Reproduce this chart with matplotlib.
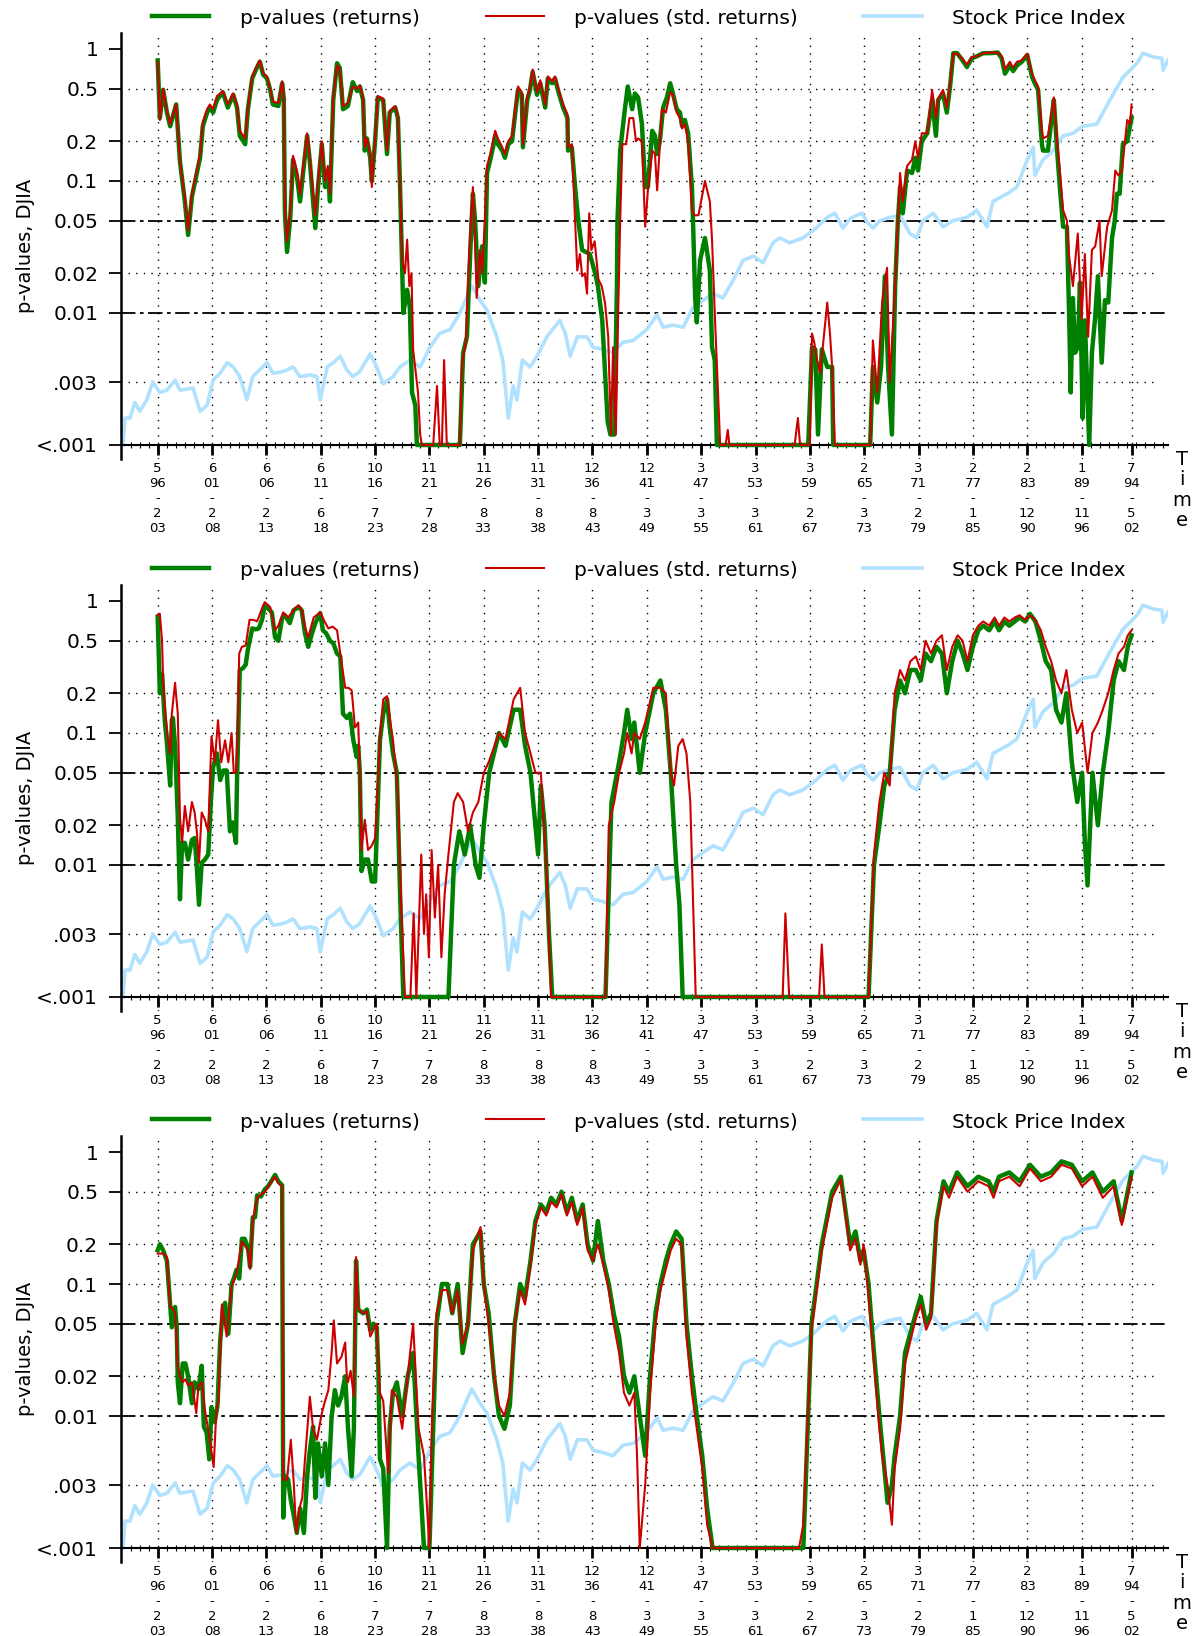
import matplotlib
matplotlib.use("Agg")
import matplotlib.pyplot as plt
from matplotlib.lines import Line2D
from matplotlib.ticker import FixedLocator, NullLocator, MultipleLocator

W, H = 1196, 1636
GREEN = "#008000"
RED = "#CC0000"
BLUE = "#B0E2FF"

# window labels: start month / year - end month / year
START_MONTH = [5, 6, 6, 6, 10, 11, 11, 11, 12, 12, 3, 3, 3, 2, 3, 2, 2, 1, 7]
START_YEAR = ["96", "01", "06", "11", "16", "21", "26", "31", "36", "41",
              "47", "53", "59", "65", "71", "77", "83", "89", "94"]
END_MONTH = [2, 2, 2, 6, 7, 7, 8, 8, 8, 3, 3, 3, 2, 3, 2, 1, 12, 11, 5]
END_YEAR = ["03", "08", "13", "18", "23", "28", "33", "38", "43", "49",
            "55", "61", "67", "73", "79", "85", "90", "96", "02"]
# window position (in units of the regular tick step)
TICK_POS = [0, 1, 2, 3, 4, 5, 6, 7, 8, 9, 10, 11, 12, 13, 14, 15, 16, 17, 17.92]

Y_TICKS = [1, 0.5, 0.2, 0.1, 0.05, 0.02, 0.01, 0.003, 0.001]
Y_LABELS = ["1", "0.5", "0.2", "0.1", "0.05", "0.02", "0.01", ".003", "<.001"]

# stock price index, drawn on the p-value scale (same in every panel)
INDEX = [(-0.64, 0.001), (-0.60, 0.0016), (-0.51, 0.0016), (-0.42, 0.0021), (-0.33, 0.0018),
         (-0.20, 0.0022), (-0.09, 0.0030), (0.04, 0.0025), (0.17, 0.0026), (0.32, 0.0031),
         (0.41, 0.0026), (0.65, 0.0027), (0.78, 0.0018), (0.91, 0.0020), (1.02, 0.0031),
         (1.15, 0.0035), (1.28, 0.0042), (1.39, 0.0039), (1.51, 0.0033), (1.64, 0.0022),
         (1.75, 0.0033), (2.01, 0.0042), (2.12, 0.0035), (2.31, 0.0036), (2.49, 0.0039),
         (2.62, 0.0033), (2.80, 0.0034), (2.93, 0.0033), (2.99, 0.0022), (3.12, 0.0039),
         (3.23, 0.0042), (3.36, 0.0047), (3.48, 0.0037), (3.59, 0.0033), (3.72, 0.0036),
         (3.91, 0.0049), (4.03, 0.0039), (4.15, 0.0029), (4.33, 0.0033), (4.46, 0.0039),
         (4.64, 0.0044), (4.83, 0.0039), (5.01, 0.0055), (5.19, 0.0070), (5.38, 0.0075),
         (5.56, 0.010), (5.78, 0.016), (5.93, 0.0125), (6.06, 0.0105), (6.24, 0.0066),
         (6.35, 0.0044), (6.45, 0.0016), (6.54, 0.0028), (6.61, 0.0022), (6.71, 0.0044),
         (6.85, 0.0039), (6.98, 0.0047), (7.16, 0.0066), (7.40, 0.0088), (7.50, 0.0070),
         (7.59, 0.0047), (7.72, 0.0066), (7.90, 0.0066), (8.01, 0.0055), (8.18, 0.0053),
         (8.38, 0.0050), (8.56, 0.0060), (8.75, 0.0062), (9.00, 0.0075), (9.19, 0.0097),
         (9.30, 0.0078), (9.48, 0.0081), (9.67, 0.0078), (9.85, 0.011), (10.04, 0.0125),
         (10.22, 0.014), (10.40, 0.013), (10.59, 0.0177), (10.77, 0.025), (10.96, 0.027),
         (11.14, 0.024), (11.32, 0.034), (11.45, 0.037), (11.63, 0.034), (11.87, 0.037),
         (12.06, 0.042), (12.32, 0.053), (12.46, 0.057), (12.61, 0.044), (12.74, 0.052),
         (12.96, 0.057), (13.05, 0.049), (13.16, 0.044), (13.29, 0.050), (13.47, 0.053),
         (13.66, 0.055), (13.84, 0.040), (13.97, 0.037), (14.08, 0.050), (14.27, 0.057),
         (14.45, 0.045), (14.63, 0.050), (14.89, 0.053), (15.07, 0.060), (15.26, 0.045),
         (15.37, 0.070), (15.63, 0.080), (15.81, 0.090), (16.00, 0.145), (16.11, 0.18),
         (16.14, 0.11), (16.29, 0.145), (16.48, 0.17), (16.66, 0.22), (16.84, 0.23),
         (17.02, 0.26), (17.28, 0.27), (17.52, 0.41), (17.76, 0.61), (17.89, 0.69),
         (18.02, 0.78), (18.13, 0.93), (18.32, 0.87), (18.48, 0.85), (18.50, 0.69),
         (18.59, 0.82)]

# panel 1
P1_RET = [(0.00, 0.82), (0.04, 0.30), (0.10, 0.49), (0.17, 0.33), (0.23, 0.26), (0.34, 0.38),
          (0.41, 0.14), (0.50, 0.07), (0.56, 0.039), (0.63, 0.076), (0.69, 0.10), (0.78, 0.15),
          (0.83, 0.26), (0.91, 0.33), (0.96, 0.36), (1.02, 0.33), (1.09, 0.41), (1.20, 0.47),
          (1.29, 0.36), (1.39, 0.45), (1.46, 0.36), (1.51, 0.22), (1.61, 0.19), (1.66, 0.35),
          (1.74, 0.60), (1.83, 0.73), (1.88, 0.80), (1.94, 0.64), (2.01, 0.60), (2.07, 0.49),
          (2.12, 0.38), (2.22, 0.37), (2.29, 0.55), (2.32, 0.42), (2.34, 0.06), (2.38, 0.029),
          (2.44, 0.053), (2.49, 0.145), (2.56, 0.11), (2.62, 0.07), (2.67, 0.11), (2.75, 0.22),
          (2.80, 0.14), (2.86, 0.07), (2.90, 0.044), (2.95, 0.09), (3.02, 0.19), (3.08, 0.09),
          (3.13, 0.12), (3.17, 0.07), (3.23, 0.41), (3.30, 0.78), (3.35, 0.72), (3.41, 0.35),
          (3.50, 0.37), (3.59, 0.56), (3.67, 0.48), (3.72, 0.52), (3.78, 0.41), (3.81, 0.17),
          (3.85, 0.21), (3.91, 0.15), (3.94, 0.10), (4.00, 0.20), (4.05, 0.43), (4.15, 0.41),
          (4.22, 0.16), (4.27, 0.33), (4.37, 0.36), (4.42, 0.30), (4.46, 0.09), (4.50, 0.02),
          (4.52, 0.01), (4.59, 0.015), (4.64, 0.011), (4.68, 0.0025), (4.74, 0.002), (4.77, 0.001),
          (5.56, 0.001), (5.62, 0.005), (5.69, 0.0066), (5.75, 0.028), (5.80, 0.08), (5.84, 0.05),
          (5.90, 0.016), (5.97, 0.032), (6.02, 0.017), (6.06, 0.115), (6.12, 0.145), (6.17, 0.18),
          (6.21, 0.22), (6.26, 0.19), (6.34, 0.17), (6.39, 0.15), (6.45, 0.19), (6.52, 0.20),
          (6.58, 0.33), (6.63, 0.49), (6.70, 0.45), (6.72, 0.18), (6.80, 0.41), (6.85, 0.49),
          (6.90, 0.67), (6.98, 0.45), (7.04, 0.55), (7.13, 0.36), (7.18, 0.60), (7.26, 0.55),
          (7.31, 0.60), (7.37, 0.48), (7.46, 0.36), (7.54, 0.30), (7.55, 0.17), (7.62, 0.18),
          (7.68, 0.09), (7.74, 0.05), (7.81, 0.03), (7.95, 0.028), (8.05, 0.02), (8.10, 0.016),
          (8.18, 0.0088), (8.28, 0.0015), (8.33, 0.0012), (8.40, 0.0012), (8.45, 0.016),
          (8.46, 0.05), (8.51, 0.17), (8.60, 0.36), (8.65, 0.52), (8.73, 0.35), (8.78, 0.46),
          (8.84, 0.43), (8.91, 0.27), (8.97, 0.09), (9.02, 0.09), (9.10, 0.24), (9.15, 0.22),
          (9.19, 0.16), (9.24, 0.20), (9.30, 0.36), (9.37, 0.43), (9.43, 0.55), (9.48, 0.46),
          (9.55, 0.35), (9.61, 0.33), (9.65, 0.26), (9.70, 0.29), (9.76, 0.23), (9.83, 0.09),
          (9.85, 0.05), (9.89, 0.013), (9.92, 0.0085), (9.98, 0.025), (10.07, 0.037),
          (10.16, 0.021), (10.20, 0.0055), (10.25, 0.0044), (10.29, 0.001), (11.97, 0.001),
          (12.04, 0.0055), (12.10, 0.0053), (12.15, 0.0012), (12.22, 0.0053), (12.32, 0.0039),
          (12.41, 0.0039), (12.43, 0.001), (13.11, 0.001), (13.16, 0.0039), (13.24, 0.0021),
          (13.31, 0.0039), (13.38, 0.019), (13.44, 0.0039), (13.51, 0.0012), (13.57, 0.016),
          (13.62, 0.05), (13.66, 0.09), (13.71, 0.057), (13.79, 0.12), (13.88, 0.115),
          (13.94, 0.15), (13.99, 0.12), (14.06, 0.20), (14.16, 0.23), (14.25, 0.41), (14.32, 0.22),
          (14.36, 0.41), (14.45, 0.46), (14.52, 0.33), (14.58, 0.52), (14.64, 0.93), (14.71, 0.93),
          (14.80, 0.83), (14.89, 0.73), (14.98, 0.85), (15.07, 0.88), (15.19, 0.93), (15.32, 0.93),
          (15.46, 0.94), (15.53, 0.85), (15.59, 0.65), (15.68, 0.75), (15.74, 0.68), (15.81, 0.75),
          (15.90, 0.80), (16.00, 0.90), (16.09, 0.61), (16.14, 0.55), (16.20, 0.49), (16.27, 0.19),
          (16.29, 0.17), (16.38, 0.17), (16.46, 0.33), (16.49, 0.41), (16.55, 0.17), (16.60, 0.09),
          (16.66, 0.045), (16.73, 0.045), (16.77, 0.01), (16.80, 0.0025), (16.84, 0.013),
          (16.88, 0.005), (16.93, 0.0055), (16.97, 0.017), (17.02, 0.0016), (17.06, 0.0088),
          (17.14, 0.001), (17.19, 0.005), (17.25, 0.0093), (17.30, 0.019), (17.37, 0.0042),
          (17.43, 0.0125), (17.49, 0.012), (17.56, 0.037), (17.61, 0.05), (17.65, 0.08),
          (17.70, 0.08), (17.76, 0.19), (17.84, 0.20), (17.89, 0.26), (17.92, 0.30)]

P1_STD = [(0.00, 0.80), (0.04, 0.29), (0.10, 0.50), (0.17, 0.34), (0.23, 0.27), (0.34, 0.38),
          (0.41, 0.14), (0.50, 0.075), (0.56, 0.042), (0.63, 0.08), (0.69, 0.105), (0.78, 0.16),
          (0.83, 0.28), (0.91, 0.35), (0.96, 0.38), (1.02, 0.35), (1.09, 0.44), (1.20, 0.48),
          (1.29, 0.38), (1.39, 0.46), (1.46, 0.38), (1.51, 0.24), (1.61, 0.21), (1.66, 0.36),
          (1.74, 0.62), (1.83, 0.75), (1.88, 0.82), (1.94, 0.66), (2.01, 0.62), (2.07, 0.50),
          (2.12, 0.40), (2.22, 0.39), (2.29, 0.57), (2.32, 0.45), (2.34, 0.065), (2.38, 0.035),
          (2.44, 0.06), (2.49, 0.155), (2.56, 0.12), (2.62, 0.08), (2.67, 0.12), (2.75, 0.23),
          (2.80, 0.15), (2.86, 0.08), (2.90, 0.055), (2.95, 0.10), (3.02, 0.20), (3.08, 0.10),
          (3.13, 0.13), (3.17, 0.08), (3.23, 0.43), (3.30, 0.75), (3.35, 0.70), (3.41, 0.37),
          (3.50, 0.39), (3.59, 0.52), (3.67, 0.50), (3.72, 0.53), (3.78, 0.42), (3.81, 0.18),
          (3.85, 0.21), (3.91, 0.16), (3.94, 0.09), (4.00, 0.21), (4.05, 0.44), (4.15, 0.42),
          (4.22, 0.17), (4.27, 0.34), (4.37, 0.37), (4.42, 0.31), (4.46, 0.09), (4.50, 0.025),
          (4.55, 0.02), (4.59, 0.036), (4.63, 0.016), (4.67, 0.02), (4.70, 0.0053), (4.75, 0.0035),
          (4.79, 0.0025), (4.83, 0.0012), (4.86, 0.001), (5.07, 0.001), (5.14, 0.0028),
          (5.19, 0.001), (5.23, 0.001), (5.27, 0.0044), (5.32, 0.001), (5.56, 0.001),
          (5.60, 0.0042), (5.67, 0.006), (5.72, 0.021), (5.76, 0.05), (5.80, 0.09), (5.84, 0.033),
          (5.87, 0.013), (5.93, 0.03), (5.97, 0.02), (6.02, 0.05), (6.06, 0.13), (6.12, 0.16),
          (6.17, 0.20), (6.21, 0.24), (6.26, 0.21), (6.34, 0.18), (6.39, 0.16), (6.45, 0.20),
          (6.52, 0.22), (6.58, 0.35), (6.63, 0.52), (6.70, 0.47), (6.72, 0.19), (6.80, 0.43),
          (6.85, 0.52), (6.90, 0.70), (6.98, 0.47), (7.04, 0.58), (7.13, 0.38), (7.18, 0.62),
          (7.26, 0.57), (7.31, 0.62), (7.37, 0.50), (7.46, 0.38), (7.54, 0.32), (7.55, 0.18),
          (7.62, 0.19), (7.68, 0.05), (7.72, 0.021), (7.77, 0.028), (7.81, 0.019), (7.86, 0.02),
          (7.90, 0.014), (7.94, 0.057), (7.98, 0.03), (8.04, 0.035), (8.11, 0.018), (8.17, 0.016),
          (8.23, 0.012), (8.29, 0.0066), (8.34, 0.0012), (8.38, 0.0055), (8.43, 0.0012),
          (8.47, 0.0088), (8.51, 0.05), (8.55, 0.19), (8.62, 0.19), (8.68, 0.30), (8.75, 0.30),
          (8.80, 0.20), (8.84, 0.21), (8.91, 0.20), (8.97, 0.045), (9.02, 0.085), (9.10, 0.17),
          (9.15, 0.16), (9.19, 0.085), (9.28, 0.35), (9.35, 0.33), (9.43, 0.47), (9.48, 0.45),
          (9.55, 0.33), (9.61, 0.30), (9.65, 0.25), (9.70, 0.27), (9.76, 0.20), (9.83, 0.06),
          (9.88, 0.055), (9.95, 0.055), (10.07, 0.10), (10.16, 0.07), (10.20, 0.036),
          (10.25, 0.01), (10.35, 0.001), (10.45, 0.001), (10.49, 0.0013), (10.52, 0.001),
          (11.72, 0.001), (11.78, 0.0016), (11.82, 0.001), (12.00, 0.001), (12.04, 0.007),
          (12.08, 0.006), (12.13, 0.0045), (12.19, 0.0035), (12.32, 0.012), (12.37, 0.007),
          (12.41, 0.0039), (12.46, 0.001), (13.11, 0.001), (13.16, 0.0062), (13.24, 0.0025),
          (13.33, 0.012), (13.42, 0.022), (13.47, 0.003), (13.57, 0.016), (13.62, 0.05),
          (13.66, 0.115), (13.71, 0.07), (13.79, 0.13), (13.88, 0.145), (13.94, 0.20),
          (13.99, 0.15), (14.06, 0.23), (14.16, 0.23), (14.25, 0.49), (14.32, 0.30), (14.36, 0.42),
          (14.45, 0.49), (14.52, 0.36), (14.58, 0.55), (14.64, 0.93), (14.71, 0.92), (14.80, 0.85),
          (14.89, 0.76), (14.98, 0.87), (15.07, 0.88), (15.19, 0.93), (15.32, 0.94), (15.46, 0.94),
          (15.53, 0.88), (15.59, 0.70), (15.68, 0.80), (15.74, 0.72), (15.81, 0.80), (15.90, 0.82),
          (16.00, 0.92), (16.09, 0.65), (16.14, 0.58), (16.20, 0.52), (16.27, 0.24), (16.29, 0.21),
          (16.38, 0.22), (16.46, 0.35), (16.49, 0.43), (16.55, 0.20), (16.60, 0.12), (16.66, 0.06),
          (16.73, 0.05), (16.77, 0.027), (16.84, 0.016), (16.93, 0.04), (17.00, 0.009),
          (17.06, 0.028), (17.12, 0.0066), (17.19, 0.03), (17.25, 0.032), (17.33, 0.05),
          (17.37, 0.019), (17.47, 0.045), (17.56, 0.06), (17.62, 0.12), (17.68, 0.11),
          (17.74, 0.12), (17.84, 0.29), (17.89, 0.27), (17.92, 0.38)]

# panel 2
P2_RET = [(0.00, 0.76), (0.04, 0.20), (0.08, 0.28), (0.13, 0.125), (0.17, 0.084), (0.23, 0.04),
          (0.26, 0.125), (0.28, 0.13), (0.32, 0.08), (0.37, 0.023), (0.41, 0.0055), (0.45, 0.0147),
          (0.50, 0.0147), (0.56, 0.011), (0.63, 0.0155), (0.68, 0.016), (0.72, 0.0097),
          (0.76, 0.005), (0.81, 0.0104), (0.87, 0.011), (0.93, 0.012), (0.98, 0.031), (1.02, 0.055),
          (1.09, 0.07), (1.15, 0.044), (1.21, 0.052), (1.27, 0.052), (1.33, 0.018), (1.38, 0.021),
          (1.44, 0.0147), (1.46, 0.044), (1.51, 0.30), (1.57, 0.31), (1.62, 0.33), (1.66, 0.43),
          (1.74, 0.62), (1.80, 0.61), (1.86, 0.62), (1.92, 0.72), (1.97, 0.92), (2.03, 0.88),
          (2.10, 0.82), (2.16, 0.53), (2.22, 0.50), (2.29, 0.74), (2.34, 0.78), (2.43, 0.68),
          (2.50, 0.85), (2.59, 0.90), (2.65, 0.85), (2.71, 0.57), (2.77, 0.45), (2.84, 0.57),
          (2.90, 0.68), (2.99, 0.81), (3.04, 0.60), (3.10, 0.57), (3.17, 0.50), (3.23, 0.48),
          (3.30, 0.40), (3.36, 0.38), (3.41, 0.14), (3.48, 0.13), (3.54, 0.14), (3.60, 0.088),
          (3.66, 0.066), (3.69, 0.08), (3.72, 0.05), (3.75, 0.009), (3.81, 0.011), (3.87, 0.011),
          (3.94, 0.0075), (4.00, 0.0075), (4.05, 0.03), (4.09, 0.088), (4.15, 0.14), (4.22, 0.18),
          (4.27, 0.11), (4.33, 0.07), (4.40, 0.05), (4.46, 0.006), (4.52, 0.001), (5.35, 0.001),
          (5.45, 0.01), (5.55, 0.018), (5.65, 0.012), (5.75, 0.02), (5.85, 0.01), (5.92, 0.008),
          (6.00, 0.02), (6.10, 0.05), (6.28, 0.10), (6.40, 0.08), (6.55, 0.15),
          (6.67, 0.15), (6.76, 0.08), (6.86, 0.05), (6.95, 0.02), (7.00, 0.012), (7.05, 0.04),
          (7.12, 0.02), (7.20, 0.003), (7.26, 0.001), (8.24, 0.001), (8.35, 0.03), (8.49, 0.06),
          (8.58, 0.10), (8.64, 0.15), (8.72, 0.09), (8.77, 0.12), (8.87, 0.05), (8.97, 0.10),
          (9.12, 0.20), (9.25, 0.25), (9.35, 0.15), (9.44, 0.05), (9.54, 0.01), (9.60, 0.005),
          (9.66, 0.001), (13.08, 0.001), (13.18, 0.01), (13.28, 0.02), (13.37, 0.04), (13.47, 0.05),
          (13.56, 0.15), (13.66, 0.25), (13.75, 0.20), (13.85, 0.30), (13.95, 0.30), (14.04, 0.25),
          (14.13, 0.40), (14.23, 0.35), (14.33, 0.45), (14.43, 0.40), (14.52, 0.20), (14.62, 0.35),
          (14.72, 0.50), (14.81, 0.40), (14.90, 0.30), (15.00, 0.45), (15.10, 0.60), (15.19, 0.65),
          (15.30, 0.60), (15.40, 0.70), (15.48, 0.60), (15.58, 0.70), (15.67, 0.65), (15.77, 0.70),
          (15.86, 0.75), (15.96, 0.70), (16.05, 0.80), (16.15, 0.70), (16.25, 0.50), (16.34, 0.35),
          (16.44, 0.30), (16.53, 0.15), (16.63, 0.12), (16.72, 0.20), (16.82, 0.06), (16.92, 0.03),
          (17.01, 0.05), (17.06, 0.015), (17.11, 0.007), (17.20, 0.05), (17.30, 0.02), (17.39, 0.05),
          (17.49, 0.10), (17.59, 0.25), (17.68, 0.35), (17.78, 0.30), (17.85, 0.45), (17.92, 0.55)]

P2_STD = [(0.00, 0.78), (0.04, 0.80), (0.08, 0.50), (0.10, 0.25), (0.13, 0.16), (0.19, 0.09),
          (0.23, 0.07), (0.26, 0.14), (0.32, 0.24), (0.37, 0.14), (0.41, 0.023), (0.45, 0.015),
          (0.50, 0.028), (0.56, 0.018), (0.63, 0.03), (0.68, 0.025), (0.72, 0.018), (0.76, 0.0104),
          (0.81, 0.025), (0.87, 0.022), (0.93, 0.018), (0.99, 0.094), (1.05, 0.06), (1.11, 0.125),
          (1.17, 0.06), (1.24, 0.088), (1.30, 0.06), (1.36, 0.10), (1.40, 0.05), (1.44, 0.05),
          (1.47, 0.09), (1.50, 0.40), (1.55, 0.45), (1.62, 0.46), (1.69, 0.72), (1.76, 0.72),
          (1.83, 0.70), (1.92, 0.88), (1.97, 0.98), (2.07, 0.90), (2.16, 0.60), (2.22, 0.65),
          (2.31, 0.82), (2.40, 0.75), (2.50, 0.85), (2.59, 0.93), (2.65, 0.86), (2.71, 0.64),
          (2.77, 0.53), (2.87, 0.75), (2.99, 0.82), (3.07, 0.70), (3.14, 0.62), (3.22, 0.64),
          (3.30, 0.60), (3.36, 0.40), (3.45, 0.22), (3.51, 0.22), (3.57, 0.21), (3.63, 0.11),
          (3.69, 0.12), (3.72, 0.05), (3.75, 0.013), (3.81, 0.022), (3.87, 0.013), (3.94, 0.014),
          (4.00, 0.016), (4.05, 0.04), (4.09, 0.094), (4.15, 0.18), (4.22, 0.19), (4.27, 0.13),
          (4.33, 0.088), (4.42, 0.035), (4.48, 0.005), (4.55, 0.001), (4.65, 0.001), (4.71, 0.0043),
          (4.76, 0.001), (4.85, 0.012), (4.90, 0.003), (4.94, 0.006), (4.99, 0.002), (5.04, 0.013),
          (5.10, 0.004), (5.16, 0.01), (5.22, 0.002), (5.28, 0.006), (5.35, 0.012), (5.45, 0.03),
          (5.52, 0.035), (5.62, 0.03), (5.71, 0.018), (5.80, 0.025), (5.90, 0.03), (6.00, 0.05),
          (6.09, 0.06), (6.28, 0.10),
          (6.40, 0.09), (6.55, 0.18), (6.67, 0.22), (6.76, 0.10), (6.86, 0.07), (6.95, 0.05),
          (7.05, 0.05), (7.15, 0.01), (7.24, 0.001), (8.24, 0.001), (8.30, 0.02), (8.40, 0.03),
          (8.49, 0.05), (8.58, 0.07), (8.64, 0.10), (8.72, 0.07), (8.77, 0.10), (8.87, 0.09),
          (8.97, 0.12), (9.12, 0.22), (9.25, 0.22), (9.35, 0.20), (9.44, 0.05), (9.50, 0.04),
          (9.58, 0.08), (9.66, 0.09), (9.73, 0.07), (9.80, 0.03), (9.90, 0.001), (11.50, 0.001),
          (11.55, 0.0043), (11.62, 0.001), (12.17, 0.001), (12.22, 0.0025), (12.27, 0.001),
          (13.08, 0.001), (13.18, 0.012), (13.28, 0.03), (13.37, 0.05), (13.47, 0.04), (13.56, 0.20),
          (13.66, 0.30), (13.75, 0.25), (13.85, 0.35), (13.95, 0.38), (14.04, 0.30), (14.13, 0.50),
          (14.23, 0.40), (14.33, 0.50), (14.43, 0.55), (14.52, 0.30), (14.62, 0.45), (14.72, 0.55),
          (14.81, 0.50), (14.90, 0.35), (15.00, 0.55), (15.10, 0.65), (15.19, 0.70), (15.30, 0.65),
          (15.40, 0.75), (15.48, 0.65), (15.58, 0.75), (15.67, 0.70), (15.77, 0.75), (15.86, 0.78),
          (15.96, 0.72), (16.05, 0.78), (16.15, 0.72), (16.25, 0.60), (16.34, 0.45), (16.44, 0.35),
          (16.53, 0.25), (16.63, 0.20), (16.72, 0.30), (16.82, 0.15), (16.92, 0.10), (17.01, 0.12),
          (17.11, 0.05), (17.20, 0.10), (17.30, 0.12), (17.39, 0.15), (17.49, 0.20), (17.59, 0.30),
          (17.68, 0.40), (17.78, 0.45), (17.85, 0.55), (17.92, 0.60)]

# panel 3
P3_RET = [(0.00, 0.18), (0.04, 0.20), (0.10, 0.18), (0.17, 0.15), (0.23, 0.07), (0.26, 0.047),
          (0.32, 0.067), (0.35, 0.047), (0.37, 0.018), (0.41, 0.0125), (0.46, 0.025),
          (0.51, 0.025), (0.56, 0.02), (0.63, 0.0125), (0.68, 0.018), (0.75, 0.016), (0.81, 0.024),
          (0.85, 0.0083), (0.90, 0.0075), (0.95, 0.0047), (0.99, 0.0117), (1.05, 0.009),
          (1.10, 0.012), (1.15, 0.037), (1.20, 0.064), (1.24, 0.072), (1.30, 0.042), (1.36, 0.10),
          (1.40, 0.11), (1.45, 0.128), (1.50, 0.11), (1.55, 0.22), (1.60, 0.22), (1.66, 0.19),
          (1.70, 0.135), (1.75, 0.32), (1.79, 0.32), (1.83, 0.47), (1.90, 0.46), (1.97, 0.52),
          (2.03, 0.55), (2.10, 0.61), (2.16, 0.67), (2.22, 0.60), (2.29, 0.56), (2.31, 0.0017),
          (2.34, 0.0035), (2.40, 0.0033), (2.45, 0.0023), (2.50, 0.0018), (2.56, 0.0013),
          (2.62, 0.002), (2.69, 0.0013), (2.75, 0.0035), (2.80, 0.0055), (2.86, 0.0083),
          (2.90, 0.0024), (2.95, 0.0062), (3.02, 0.0035), (3.08, 0.0062), (3.14, 0.003),
          (3.20, 0.0098), (3.26, 0.0157), (3.32, 0.012), (3.38, 0.014), (3.45, 0.02), (3.50, 0.0083),
          (3.57, 0.0035), (3.61, 0.008), (3.65, 0.15), (3.69, 0.064), (3.78, 0.06), (3.85, 0.064),
          (3.91, 0.045), (3.97, 0.05), (4.03, 0.047), (4.06, 0.023), (4.09, 0.0047), (4.15, 0.004),
          (4.22, 0.001), (4.27, 0.0083), (4.33, 0.015), (4.40, 0.018), (4.50, 0.01), (4.60, 0.02),
          (4.70, 0.03), (4.80, 0.005), (4.90, 0.001), (5.00, 0.001), (5.13, 0.05), (5.23, 0.10),
          (5.33, 0.10), (5.42, 0.06), (5.52, 0.10), (5.61, 0.03), (5.71, 0.05), (5.80, 0.20),
          (5.94, 0.25), (6.00, 0.10), (6.09, 0.06), (6.19, 0.02), (6.28, 0.01), (6.38, 0.008),
          (6.48, 0.012), (6.57, 0.05), (6.67, 0.10), (6.76, 0.08), (6.86, 0.15), (6.95, 0.30),
          (7.05, 0.40), (7.15, 0.35), (7.24, 0.45), (7.34, 0.40), (7.43, 0.50), (7.53, 0.35),
          (7.62, 0.45), (7.72, 0.30), (7.82, 0.40), (7.91, 0.20), (8.01, 0.15), (8.10, 0.30),
          (8.20, 0.15), (8.30, 0.10), (8.39, 0.06), (8.49, 0.04), (8.58, 0.02), (8.68, 0.015),
          (8.77, 0.02), (8.87, 0.01), (8.97, 0.005), (9.06, 0.02), (9.16, 0.06), (9.25, 0.10),
          (9.35, 0.15), (9.44, 0.20), (9.54, 0.25), (9.64, 0.22), (9.73, 0.05), (9.83, 0.02),
          (9.92, 0.01), (10.02, 0.005), (10.11, 0.002), (10.21, 0.001), (11.88, 0.001),
          (12.03, 0.05), (12.22, 0.20), (12.41, 0.50), (12.57, 0.65), (12.64, 0.40), (12.74, 0.20),
          (12.84, 0.25), (12.93, 0.15), (12.99, 0.18), (13.08, 0.10), (13.18, 0.03), (13.28, 0.01),
          (13.33, 0.006), (13.43, 0.0022), (13.51, 0.003), (13.56, 0.005), (13.66, 0.01),
          (13.75, 0.03), (13.95, 0.06), (14.04, 0.08), (14.14, 0.05), (14.23, 0.06), (14.33, 0.30),
          (14.46, 0.60), (14.56, 0.50), (14.71, 0.70), (14.90, 0.55), (15.10, 0.65), (15.29, 0.60),
          (15.38, 0.50), (15.48, 0.65), (15.67, 0.70), (15.86, 0.60), (16.05, 0.80), (16.25, 0.65),
          (16.44, 0.70), (16.63, 0.85), (16.82, 0.80), (17.01, 0.60), (17.20, 0.70), (17.39, 0.50),
          (17.59, 0.60), (17.74, 0.30), (17.92, 0.70)]

P3_STD = [(0.00, 0.17), (0.10, 0.17), (0.17, 0.16), (0.23, 0.067), (0.28, 0.065), (0.32, 0.06),
          (0.37, 0.024), (0.41, 0.02), (0.46, 0.018), (0.51, 0.019), (0.56, 0.017), (0.63, 0.018),
          (0.71, 0.0105), (0.75, 0.017), (0.81, 0.018), (0.87, 0.011), (0.96, 0.0066),
          (1.03, 0.0041), (1.08, 0.011), (1.12, 0.013), (1.18, 0.07), (1.27, 0.04), (1.36, 0.095),
          (1.45, 0.12), (1.55, 0.21), (1.66, 0.18), (1.70, 0.13), (1.75, 0.30), (1.83, 0.45),
          (1.97, 0.50), (2.10, 0.60), (2.16, 0.65), (2.22, 0.58), (2.29, 0.55), (2.31, 0.0033),
          (2.38, 0.0033), (2.45, 0.0066), (2.50, 0.0033), (2.55, 0.0013), (2.61, 0.002),
          (2.66, 0.0024), (2.71, 0.0047), (2.80, 0.014), (2.86, 0.008), (2.93, 0.0066),
          (3.02, 0.0105), (3.08, 0.013), (3.14, 0.0157), (3.20, 0.03), (3.24, 0.053), (3.30, 0.025),
          (3.38, 0.028), (3.45, 0.036), (3.48, 0.02), (3.50, 0.018), (3.55, 0.022), (3.61, 0.014),
          (3.65, 0.16), (3.69, 0.065), (3.78, 0.06), (3.85, 0.062), (3.91, 0.04), (3.97, 0.045),
          (4.03, 0.05), (4.06, 0.025), (4.09, 0.015), (4.15, 0.013), (4.24, 0.0037), (4.31, 0.0157),
          (4.40, 0.014), (4.50, 0.008), (4.60, 0.02), (4.70, 0.05), (4.80, 0.008), (4.90, 0.005),
          (5.00, 0.001), (5.05, 0.01), (5.13, 0.06), (5.23, 0.09), (5.33, 0.09), (5.42, 0.06),
          (5.52, 0.09), (5.61, 0.035), (5.71, 0.05), (5.80, 0.18), (5.94, 0.27), (6.00, 0.10),
          (6.09, 0.05), (6.19, 0.02), (6.28, 0.012), (6.38, 0.01), (6.48, 0.015), (6.57, 0.05),
          (6.67, 0.09), (6.76, 0.07), (6.86, 0.14), (6.95, 0.28), (7.05, 0.38), (7.15, 0.33),
          (7.24, 0.42), (7.34, 0.38), (7.43, 0.48), (7.53, 0.33), (7.62, 0.42), (7.72, 0.28),
          (7.82, 0.38), (7.91, 0.18), (8.01, 0.15), (8.10, 0.20), (8.20, 0.14), (8.30, 0.09),
          (8.39, 0.05), (8.49, 0.03), (8.58, 0.015), (8.68, 0.012), (8.77, 0.015), (8.82, 0.005),
          (8.87, 0.001), (8.97, 0.003), (9.06, 0.015), (9.16, 0.05), (9.25, 0.09), (9.35, 0.13),
          (9.44, 0.18), (9.54, 0.22), (9.64, 0.20), (9.73, 0.04), (9.83, 0.015), (9.92, 0.008),
          (10.02, 0.004), (10.11, 0.0015), (10.21, 0.001), (11.80, 0.001), (11.88, 0.0015),
          (12.03, 0.045), (12.22, 0.18), (12.41, 0.45), (12.57, 0.62), (12.64, 0.38), (12.74, 0.18),
          (12.84, 0.22), (12.93, 0.14), (12.99, 0.20), (13.08, 0.08), (13.18, 0.025), (13.28, 0.008),
          (13.33, 0.005), (13.43, 0.003), (13.51, 0.0015), (13.56, 0.004), (13.66, 0.008),
          (13.75, 0.025), (13.95, 0.055), (14.04, 0.07), (14.14, 0.045), (14.23, 0.055),
          (14.33, 0.28), (14.46, 0.55), (14.56, 0.45), (14.71, 0.65), (14.90, 0.50), (15.10, 0.60),
          (15.29, 0.55), (15.38, 0.45), (15.48, 0.60), (15.67, 0.65), (15.86, 0.55), (16.05, 0.75),
          (16.25, 0.60), (16.44, 0.65), (16.63, 0.80), (16.82, 0.75), (17.01, 0.55), (17.20, 0.65),
          (17.39, 0.45), (17.59, 0.55), (17.74, 0.28), (17.92, 0.65)]

PANELS = [(P1_RET, P1_STD), (P2_RET, P2_STD), (P3_RET, P3_STD)]

# layout in pixels
PANEL_TOPS = [33, 585, 1136]
AX_LEFT, AX_RIGHT, AX_HEIGHT = 121, 1168, 426
X_LIM = (-0.675, 18.59)
Y_LIM = (10 ** (-3 - 14 / 132), 10 ** (16 / 132))

DOT = (0, (1, 4.5))
LONGDASH = (0, (8, 2.5, 2, 2.5))


def fx(px):
    return px / W


def fy(py):
    return 1 - py / H


def draw_legend(fig, top):
    y_line = top - 17
    y_text = top - 14
    items = [(152, 209, 240, GREEN, 3.2, "p-values (returns)"),
             (486, 544, 574, RED, 1.5, "p-values (std. returns)"),
             (863, 922, 952, BLUE, 2.6, "Stock Price Index")]
    for x0, x1, xt, color, lw, label in items:
        fig.add_artist(Line2D([fx(x0), fx(x1)], [fy(y_line)] * 2, color=color, lw=lw))
        fig.text(fx(xt), fy(y_text), label, fontsize=14.5, va="center", ha="left")


def draw_panel(fig, top, ret, std):
    ax = fig.add_axes([fx(AX_LEFT), fy(top + AX_HEIGHT), (AX_RIGHT - AX_LEFT) / W, AX_HEIGHT / H])
    ax.set_yscale("log")
    ax.set_xlim(*X_LIM)
    ax.set_ylim(*Y_LIM)

    for y in [0.5, 0.2, 0.1, 0.02, 0.003]:
        ax.axhline(y, xmin=0.007, xmax=0.99, color="black", lw=1.0, ls=DOT, zorder=1)
    for y in [0.05, 0.01]:
        ax.axhline(y, color="black", lw=1.3, ls=LONGDASH, zorder=1)
    for x in TICK_POS:
        ax.axvline(x, ymax=0.99, color="black", lw=1.0, ls=DOT, zorder=1)

    ix, iy = zip(*INDEX)
    ax.plot(ix, iy, color=BLUE, lw=2.6, zorder=2, solid_joinstyle="round")
    rx, ry = zip(*ret)
    ax.plot(rx, ry, color=GREEN, lw=3.2, zorder=3)
    sx, sy = zip(*std)
    ax.plot(sx, sy, color=RED, lw=1.5, zorder=4)

    for side in ["top", "right"]:
        ax.spines[side].set_visible(False)
    ax.spines["left"].set_linewidth(1.8)
    ax.spines["bottom"].set_position(("data", 0.001))
    ax.spines["bottom"].set_linewidth(1.5)

    ax.yaxis.set_major_locator(FixedLocator(Y_TICKS))
    ax.yaxis.set_minor_locator(NullLocator())
    ax.set_yticklabels(Y_LABELS)
    ax.tick_params(axis="y", direction="out", length=8.4, width=1.3, pad=8, labelsize=14.5)

    labels = [f"{sm}\n{sy_}\n-\n{em}\n{ey}" for sm, sy_, em, ey
              in zip(START_MONTH, START_YEAR, END_MONTH, END_YEAR)]
    ax.xaxis.set_major_locator(FixedLocator(TICK_POS))
    ax.set_xticklabels(labels)
    ax.xaxis.set_minor_locator(MultipleLocator(1 / 6))
    ax.tick_params(axis="x", which="major", direction="out", length=7, width=2,
                   pad=5, labelsize=9.5)
    ax.tick_params(axis="x", which="minor", direction="inout", length=4, width=0.8)
    for lab in ax.get_xticklabels():
        lab.set_linespacing(1.2)

    ax.set_ylabel("p-values, DJIA", fontsize=14)
    ax.yaxis.set_label_coords((35 - AX_LEFT) / (AX_RIGHT - AX_LEFT), 0.5)

    axis_y = top + 412
    fig.text(fx(1182), fy(axis_y + 45), "T\ni\nm\ne", fontsize=14, ha="center",
             va="center", linespacing=1.1)
    draw_legend(fig, top)
    return ax


def main():
    fig = plt.figure(figsize=(W / 100, H / 100), dpi=100)
    for top, (ret, std) in zip(PANEL_TOPS, PANELS):
        draw_panel(fig, top, ret, std)
    fig.savefig("out.png", dpi=100)


if __name__ == "__main__":
    main()
